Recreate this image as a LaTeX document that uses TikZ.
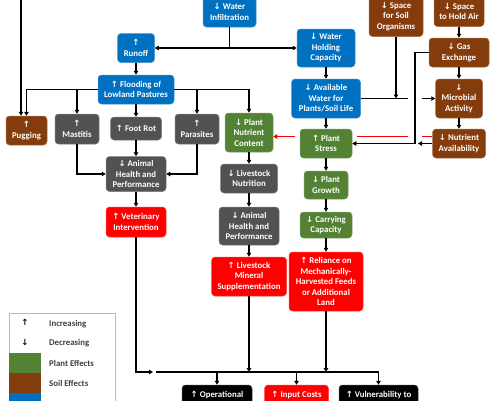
\documentclass[tikz,border=0pt]{standalone}
\usepackage{fontspec}
\setmainfont{Carlito}
\newfontfamily\arrf{DejaVu Sans}
\usetikzlibrary{arrows.meta}
\definecolor{cblue}{HTML}{0070C0}
\definecolor{cgreen}{HTML}{548235}
\definecolor{cbrown}{HTML}{843C0C}
\definecolor{cgray}{HTML}{525252}
\definecolor{cred}{HTML}{FF0000}
\definecolor{legtext}{HTML}{404040}
\newcommand\uarr{{\arrf\bfseries\fontsize{8.5}{10.5}\selectfont ↑}}
\newcommand\darr{{\arrf\bfseries\fontsize{8.5}{10.5}\selectfont ↓}}
\newcommand\nodefont{\bfseries\fontsize{8.8}{10.5}\selectfont}
\begin{document}
\begin{tikzpicture}[x=1pt,y=-1pt,
  box/.style={rounded corners=3.5pt, text=white, font=\nodefont, align=center,
    inner sep=0pt, fill=#1, draw=#1!75!white, line width=0.5pt},
  sz/.style 2 args={minimum width=#1pt, minimum height=#2pt},
  arr/.style={draw=black, line width=1.3pt, -{Triangle[length=4pt,width=4.5pt]}},
  ln/.style={draw=black, line width=1.3pt},
  redln/.style={draw=cred, line width=1.5pt},
  redarr/.style={draw=cred, line width=1.5pt, -{Triangle[length=4pt,width=4.5pt]}},
  leg/.style={font=\nodefont, text=legtext, anchor=west, inner sep=0pt}
]
\useasboundingbox (0,0) rectangle (495,400);

% ---- nodes ----
\node[box=cblue, sz={53}{30}] (inf) at (229.5,12) {\darr{} Water\\Infiltration};
\node[box=cblue, sz={37}{29}] (runoff) at (136,48) {\uarr\\Runoff};
\node[box=cblue, sz={76}{29}] (flood) at (136,89.5) {\uarr{} Flooding of\\Lowland Pastures};
\node[box=cbrown, sz={41}{29}] (pug) at (26.5,130.5) {\uarr\\Pugging};
\node[box=cgray, sz={44}{30}] (mast) at (77,129) {\uarr\\Mastitis};
\node[box=cgray, sz={51}{23}] (foot) at (136,128.5) {\uarr{} Foot Rot};
\node[box=cgray, sz={44}{30}] (para) at (197,129) {\uarr\\Parasites};
\node[box=cgreen, sz={48}{39}] (pnc) at (249,132.5) {\darr{} Plant\\Nutrient\\Content};
\node[box=cgray, sz={60}{35}] (ahp1) at (136,174) {\darr{} Animal\\Health and\\Performance};
\node[box=cred, sz={60}{30}] (vet) at (136,222) {\uarr{} Veterinary\\Intervention};
\node[box=cgray, sz={57}{29}] (lnut) at (249,178.5) {\darr{} Livestock\\Nutrition};
\node[box=cgray, sz={60}{38}] (ahp2) at (249,226) {\darr{} Animal\\Health and\\Performance};
\node[box=cred, sz={75}{39}] (lms) at (249,276.5) {\uarr{} Livestock\\Mineral\\Supplementation};
\node[box=cblue, sz={58}{38}] (whc) at (326,48) {\darr{} Water\\Holding\\Capacity};
\node[box=cblue, sz={69}{39}] (aw) at (326,98.5) {\darr{} Available\\Water for\\Plants/Soil Life};
\node[box=cbrown, sz={54}{40}] (sso) at (396,16.5) {\darr{} Space\\for Soil\\Organisms};
\node[box=cbrown, sz={50}{30}] (sha) at (459,11.5) {\darr{} Space\\to Hold Air};
\node[box=cbrown, sz={60}{29}] (gas) at (459,52.5) {\darr{} Gas\\Exchange};
\node[box=cbrown, sz={47}{39}] (mic) at (459,98.5) {\darr\\Microbial\\Activity};
\node[box=cbrown, sz={53}{29}] (nut) at (459,143.5) {\darr{} Nutrient\\Availability};
\node[box=cgreen, sz={52}{29}] (ps) at (326,143.5) {\uarr{} Plant\\Stress};
\node[box=cgreen, sz={44}{28}] (pg) at (326,185) {\darr{} Plant\\Growth};
\node[box=cgreen, sz={52}{26}] (cc) at (326,225) {\darr{} Carrying\\Capacity};
\node[box=cred, sz={74}{59}] (rel) at (326,281.5) {\uarr{} Reliance on\\Mechanically-\\Harvested Feeds\\or Additional\\Land};
\node[box=black, sz={70}{20}] (op) at (217,395) {\uarr{} Operational};
\node[box=cred, sz={64}{20}] (ic) at (296.5,395) {\uarr{} Input Costs};
\node[box=black, sz={79}{20}] (vul) at (378.5,395) {\uarr{} Vulnerability to};

% ---- coordinates ----
\coordinate (topin) at (21,-2);
\coordinate (busy) at (0,372);
\coordinate (vetend) at (153,372);
\coordinate (busL) at (156,372);
\coordinate (gapL) at (408,0);
\coordinate (gapR) at (422,0);
\coordinate (vx) at (415,0);
\coordinate (nutend) at (418,143.5);
\coordinate (ry) at (0,136.5);
\coordinate (rA) at (357,136.5);
\coordinate (rB) at (295,136.5);

% ---- connectors ----
\draw[arr] (inf.south) |- (runoff.east);
\draw[arr] (inf.south) |- (whc.west);
\draw[arr] (runoff.south) -- (flood.north);
\draw[arr] (topin) -- (topin |- pug.north);
\draw[arr] (flood.west) -| (pug.north);
\draw[arr] (flood.west) -| (mast.north);
\draw[arr] (flood.south) -- (foot.north);
\draw[arr] (flood.east) -| (para.north);
\draw[arr] (flood.east) -| (pnc.north);
\draw[arr] (mast.south) |- (ahp1.west);
\draw[arr] (para.south) |- (ahp1.east);
\draw[arr] (foot.south) -- (ahp1.north);
\draw[arr] (ahp1.south) -- (vet.north);
\draw[arr] (vet.south) |- (vetend);
\draw[arr] (busL) -| (vul.north);
\draw[arr] (op.north |- busy) -- (op.north);
\draw[arr] (ic.north |- busy) -- (ic.north);
\draw[arr] (pnc.south) -- (lnut.north);
\draw[arr] (lnut.south) -- (ahp2.north);
\draw[arr] (ahp2.south) -- (lms.north);
\draw[arr] (lms.south) -- (lms.south |- busy);
\draw[arr] (whc.south) -- (aw.north);
\draw[arr] (aw.south) -- (ps.north);
\draw[arr] (ps.south) -- (pg.north);
\draw[arr] (pg.south) -- (cc.north);
\draw[arr] (cc.south) -- (rel.north);
\draw[arr] (rel.south) -- (rel.south |- busy);
\draw[arr] (sha.south) -- (gas.north);
\draw[arr] (gas.south) -- (mic.north);
\draw[arr] (mic.south) -- (nut.north);
\draw[ln] (aw.east) -- (gapL |- aw.east);
\draw[arr] (sso.south) -- (sso.south |- aw.east);
\draw[arr] (gapR |- aw.east) -- (mic.west);
\draw[arr] (gas.west) -| (vx |- ps.east) -- (ps.east);
\draw[arr] (nut.west) -- (nutend);
\draw[redln] (nut.west |- ry) -- (gapR |- ry);
\draw[redln] (gapL |- ry) -- (rA);
\draw[redarr] (rB) -- (pnc.east |- ry);

% ---- legend ----
\node[draw=gray!55, line width=0.8pt, minimum width=106pt, minimum height=98pt, inner sep=0pt] (legend) at (62,362) {};
\fill[cgreen] (9.4,353) rectangle (41,373);
\fill[cbrown] (9.4,373) rectangle (41,393);
\fill[cblue] (9.4,393) rectangle (41,410);
\node[inner sep=0pt] (lup) at (25,322) {\uarr};
\node[inner sep=0pt] (ldn) at (25,342) {\darr};
\node[leg] (linc) at (49,324) {Increasing};
\node[leg] (ldec) at (49,343) {Decreasing};
\node[leg] (lpl) at (49,363) {Plant Effects};
\node[leg] (lso) at (49,383) {Soil Effects};
\end{tikzpicture}
\end{document}
